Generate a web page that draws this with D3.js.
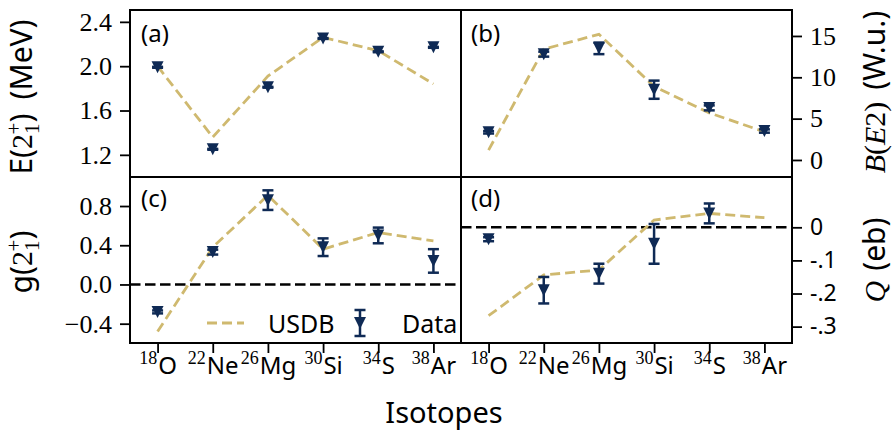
<!DOCTYPE html>
<html>
<head>
<meta charset="utf-8">
<script src="https://cdn.jsdelivr.net/npm/d3@7"></script>
<style>
  html, body { margin: 0; padding: 0; background: #fff; }
  svg { display: block; }
  .serif { font-family: "Liberation Serif", "DejaVu Serif", serif; }
  .sans { font-family: "Noto Sans", "DejaVu Sans", sans-serif; }
</style>
</head>
<body>
<svg id="chart" width="896" height="434"></svg>
<script>
// Isotopes along the shared x axis
const massNumbers = ["18", "22", "26", "30", "34", "38"];
const elements = ["O", "Ne", "Mg", "Si", "S", "Ar"];

// (a) excitation energy of the first 2+ state, MeV
const energyData = [1.99, 1.25, 1.81, 2.25, 2.13, 2.17];
const energyErr = [0.004, 0.004, 0.004, 0.004, 0.004, 0.004];
const energyUSDB = [2.0, 1.36, 1.91, 2.26, 2.14, 1.84];
const energyTicks = [1.2, 1.6, 2.0, 2.4];

// (b) B(E2) transition strength, W.u.
const be2Data = [3.35, 12.8, 13.5, 8.5, 6.3, 3.5];
const be2Err = [0.15, 0.3, 0.7, 1.1, 0.3, 0.2];
const be2USDB = [1.2, 13.4, 15.2, 8.9, 5.7, 3.4];
const be2Ticks = [0, 5, 10, 15];

// (c) g factor of the first 2+ state
const gData = [-0.28, 0.33, 0.86, 0.38, 0.50, 0.24];
const gErr = [0.015, 0.025, 0.10, 0.09, 0.08, 0.12];
const gUSDB = [-0.48, 0.38, 0.91, 0.36, 0.53, 0.445];
const gTicks = [-0.4, 0.0, 0.4, 0.8];

// (d) spectroscopic quadrupole moment, eb (no measurement for 38Ar)
const qData = [-0.036, -0.19, -0.14, -0.05, 0.042, null];
const qErr = [0.006, 0.04, 0.03, 0.06, 0.03, null];
const qUSDB = [-0.267, -0.144, -0.129, 0.022, 0.042, 0.029];
const qTicks = [0, -0.1, -0.2, -0.3];
const qTickLabels = ["0", "-.1", "-.2", "-.3"];

const NAVY = "#0f2a55";
const GOLD = "#cfb96f";

const svg = d3.select("#chart");

const L = 130, M = 461, R = 792, T = 10, H = 177, B = 343;

const isotopes = massNumbers.map((m, i) => m + elements[i]);
const xLeft = d3.scalePoint().domain(isotopes).range([L, M]).padding(0.5);
const xRight = d3.scalePoint().domain(isotopes).range([M, R]).padding(0.5);

const yE = d3.scaleLinear().domain([1.0, 2.507]).range([H, T]);
const yB = d3.scaleLinear().domain([-2.06, 18.14]).range([H, T]);
const yG = d3.scaleLinear().domain([-0.597, 1.096]).range([B, H]);
const yQ = d3.scaleLinear().domain([-0.3495, 0.152]).range([B, H]);

const panels = [
  { id: "a", x: xLeft, y: yE, data: energyData, err: energyErr, usdb: energyUSDB },
  { id: "b", x: xRight, y: yB, data: be2Data, err: be2Err, usdb: be2USDB },
  { id: "c", x: xLeft, y: yG, data: gData, err: gErr, usdb: gUSDB, zero: true },
  { id: "d", x: xRight, y: yQ, data: qData, err: qErr, usdb: qUSDB, zero: true }
];

function triangleDown(cx, cy, s) {
  return `M${cx - s},${cy - s}L${cx + s},${cy - s}L${cx},${cy + s}Z`;
}

function drawErrorMarker(g, cx, cy, yTop, yBot) {
  g.append("line").attr("x1", cx).attr("x2", cx).attr("y1", yTop).attr("y2", yBot)
    .attr("stroke", NAVY).attr("stroke-width", 2.5);
  [yTop, yBot].forEach(yy => g.append("line")
    .attr("x1", cx - 5.5).attr("x2", cx + 5.5).attr("y1", yy).attr("y2", yy)
    .attr("stroke", NAVY).attr("stroke-width", 2.5));
  g.append("path").attr("d", triangleDown(cx, cy, 6)).attr("fill", NAVY);
}

panels.forEach(p => {
  const g = svg.append("g");
  const [x0, x1] = p.x.range();
  if (p.zero) {
    g.append("line").attr("x1", x0).attr("x2", x1)
      .attr("y1", p.y(0)).attr("y2", p.y(0))
      .attr("stroke", "#000").attr("stroke-width", 2.4)
      .attr("stroke-dasharray", "10.5,4.5");
  }
  const line = d3.line().x((d, i) => p.x(isotopes[i])).y(d => p.y(d));
  g.append("path").datum(p.usdb).attr("d", line)
    .attr("fill", "none").attr("stroke", GOLD).attr("stroke-width", 2.8)
    .attr("stroke-dasharray", "10,5");
  p.data.forEach((v, i) => {
    if (v === null) return;
    const cx = p.x(isotopes[i]);
    drawErrorMarker(g, cx, p.y(v), p.y(v + p.err[i]), p.y(v - p.err[i]));
  });
});

// Frames
svg.append("rect").attr("x", L).attr("y", T).attr("width", R - L).attr("height", B - T)
  .attr("fill", "none").attr("stroke", "#000").attr("stroke-width", 2);
svg.append("line").attr("x1", M).attr("x2", M).attr("y1", T).attr("y2", B)
  .attr("stroke", "#000").attr("stroke-width", 2);
svg.append("line").attr("x1", L).attr("x2", R).attr("y1", H).attr("y2", H)
  .attr("stroke", "#000").attr("stroke-width", 2);

function styleAxis(sel) {
  sel.select(".domain").remove();
  sel.selectAll(".tick line").attr("stroke", "#000").attr("stroke-width", 1.8);
}

// Left axes
svg.append("g").attr("transform", `translate(${L},0)`)
  .call(d3.axisLeft(yE).tickValues(energyTicks).tickSize(10).tickPadding(8).tickFormat(d3.format(".1f")))
  .call(styleAxis)
  .selectAll("text").attr("class", "serif").attr("font-size", 26).attr("fill", "#000");

svg.append("g").attr("transform", `translate(${L},0)`)
  .call(d3.axisLeft(yG).tickValues(gTicks).tickSize(10).tickPadding(8)
    .tickFormat(d => d3.format(".1f")(d).replace("-", "\u2212")))
  .call(styleAxis)
  .selectAll("text").attr("class", "serif").attr("font-size", 26).attr("fill", "#000");

// Right axes
svg.append("g").attr("transform", `translate(${R},0)`)
  .call(d3.axisRight(yB).tickValues(be2Ticks).tickSize(10).tickPadding(8))
  .call(styleAxis)
  .selectAll("text").attr("class", "serif").attr("font-size", 26).attr("fill", "#000");

svg.append("g").attr("transform", `translate(${R},0)`)
  .call(d3.axisRight(yQ).tickValues(qTicks).tickSize(10).tickPadding(8)
    .tickFormat((d, i) => qTickLabels[i]))
  .call(styleAxis)
  .selectAll("text").attr("class", "sans").attr("font-size", 23).attr("fill", "#000");

// Bottom axes with isotope labels
[xLeft, xRight].forEach(xs => {
  const ax = svg.append("g").attr("transform", `translate(0,${B})`)
    .call(d3.axisBottom(xs).tickSize(10).tickPadding(6).tickFormat(""))
    .call(styleAxis);
  ax.selectAll(".tick").each(function (d, i) {
    const t = d3.select(this).append("text")
      .attr("y", 31).attr("text-anchor", "middle").attr("fill", "#000");
    t.append("tspan").attr("class", "serif").attr("font-size", 18)
      .attr("dy", -10).text(massNumbers[i]);
    t.append("tspan").attr("class", "sans").attr("font-size", 24)
      .attr("dy", 10).attr("dx", 1).text(elements[i]);
  });
});

// Panel tags
[["(a)", L + 11, T + 32], ["(b)", M + 10, T + 32], ["(c)", L + 11, H + 30], ["(d)", M + 10, H + 30]]
  .forEach(([s, x, y]) => svg.append("text").attr("class", "sans").attr("font-size", 24)
    .attr("x", x).attr("y", y).text(s));

// Axis titles
svg.append("text").attr("class", "sans").attr("font-size", 29)
  .attr("x", 444).attr("y", 423).attr("text-anchor", "middle").text("Isotopes");

function stateLabel(t, fs) {
  // 2 with stacked subscript 1 and superscript +
  t.append("tspan").attr("class", "serif").text("2");
  t.append("tspan").attr("class", "serif").attr("font-size", fs * 0.7).attr("dy", 7).text("1");
  t.append("tspan").attr("class", "serif").attr("font-size", fs * 0.7).attr("dx", -11).attr("dy", -18).text("+");
  t.append("tspan").attr("dy", 11).text(")");
}

const eLabel = svg.append("text").attr("class", "sans").attr("font-size", 30)
  .attr("text-anchor", "middle")
  .attr("transform", `translate(32,97) rotate(-90)`);
eLabel.append("tspan").text("E(");
stateLabel(eLabel, 30);
eLabel.append("tspan").attr("dx", 14).text("(MeV)");

const gLabel = svg.append("text").attr("class", "sans").attr("font-size", 30)
  .attr("text-anchor", "middle")
  .attr("transform", `translate(32,262) rotate(-90)`);
gLabel.append("tspan").text("g(");
stateLabel(gLabel, 30);

const bLabel = svg.append("text").attr("font-size", 30)
  .attr("text-anchor", "middle")
  .attr("transform", `translate(885,92) rotate(-90)`);
bLabel.append("tspan").attr("class", "serif").attr("font-style", "italic").text("B");
bLabel.append("tspan").attr("class", "serif").text("(");
bLabel.append("tspan").attr("class", "serif").attr("font-style", "italic").text("E");
bLabel.append("tspan").attr("class", "serif").text("2)");
bLabel.append("tspan").attr("class", "sans").attr("dx", 12).text("(W.u.)");

const qLabel = svg.append("text").attr("font-size", 30)
  .attr("text-anchor", "middle")
  .attr("transform", `translate(885,260) rotate(-90)`);
qLabel.append("tspan").attr("class", "serif").attr("font-style", "italic").text("Q");
qLabel.append("tspan").attr("class", "sans").attr("dx", 10).text("(eb)");

// Legend inside panel (c)
const lg = svg.append("g");
const ly = 323;
lg.append("line").attr("x1", 207).attr("x2", 244).attr("y1", ly).attr("y2", ly)
  .attr("stroke", GOLD).attr("stroke-width", 2.8).attr("stroke-dasharray", "10,5");
lg.append("text").attr("class", "sans").attr("font-size", 25)
  .attr("x", 268).attr("y", ly + 10).text("USDB");
drawErrorMarker(lg, 360, ly, ly - 13, ly + 13);
lg.append("text").attr("class", "sans").attr("font-size", 25)
  .attr("x", 402).attr("y", ly + 10).text("Data");
</script>
</body>
</html>
